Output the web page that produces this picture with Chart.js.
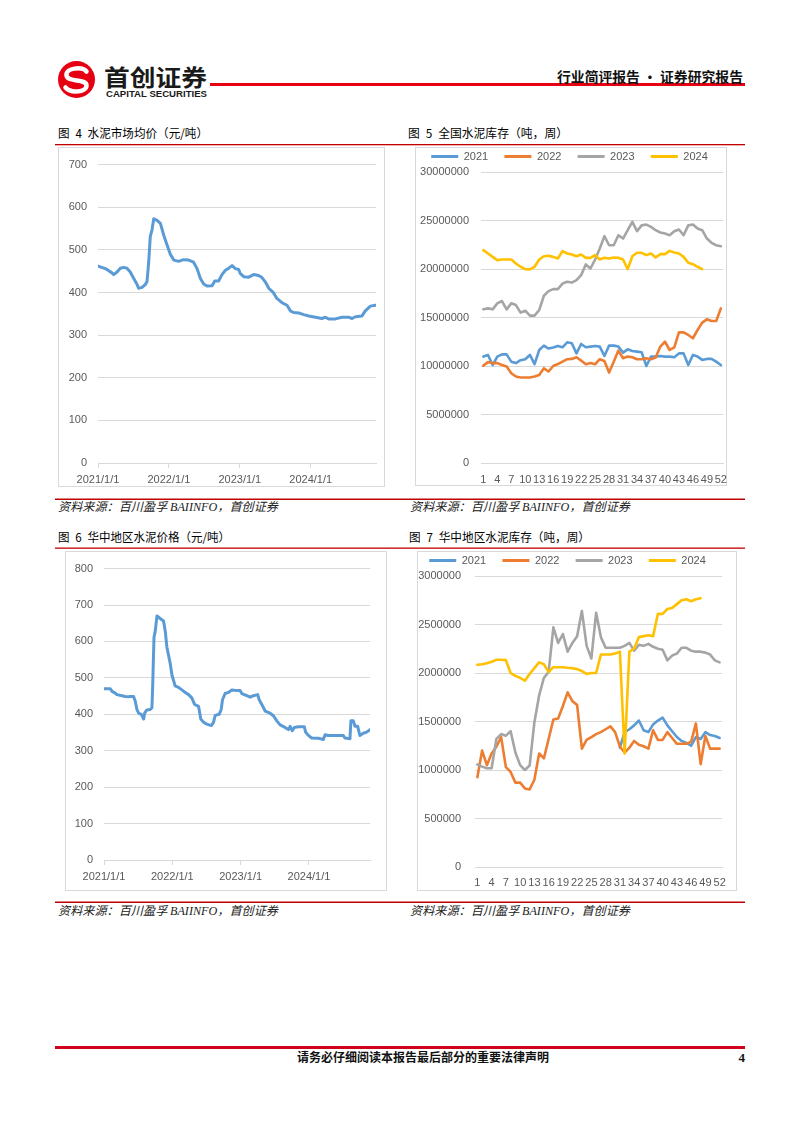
<!DOCTYPE html>
<html lang="zh-CN">
<head>
<meta charset="utf-8">
<title>水泥价格与库存</title>
<script src="https://cdn.jsdelivr.net/npm/chart.js@4.4.1/dist/chart.umd.min.js"></script>
<style>
  html, body { margin: 0; padding: 0; background: #fff; }
  #page { position: relative; width: 802px; height: 1133px; overflow: hidden; }
  #page svg.bg { position: absolute; left: 0; top: 0; }
  .box { position: absolute; border: 1px solid #D9D9D9; box-sizing: border-box; }
  canvas { position: absolute; }
</style>
</head>
<body>
<div id="page">
  <svg class="bg" width="802" height="1133" viewBox="0 0 802 1133">
    <!-- header -->
    <g transform="translate(76.5,79.5)">
      <circle r="18.5" fill="#E60012"/>
      <path d="M10,-8 C6,-13 -11,-12 -10,-4 C-9,3 10,-1 10,6 C10,13 -6,14 -11,8" fill="none" stroke="#fff" stroke-width="4.5" stroke-linecap="round"/>
    </g>
    <text x="104" y="86" font-family="'Noto Sans CJK SC', sans-serif" font-weight="700" font-size="23" textLength="103" lengthAdjust="spacingAndGlyphs" fill="#1a1a1a">首创证券</text>
    <text x="106" y="96.5" font-family="'Liberation Sans', Arial, sans-serif" font-weight="700" font-size="8.5" textLength="101" lengthAdjust="spacingAndGlyphs" fill="#1a1a1a">CAPITAL SECURITIES</text>
    <rect x="210" y="83" width="535" height="3" fill="#E60012"/>
    <text x="557" y="82" font-family="'Noto Sans CJK SC', sans-serif" font-weight="700" font-size="14" textLength="186" lengthAdjust="spacingAndGlyphs" fill="#111">行业简评报告 · 证券研究报告</text>

    <!-- row 1 -->
    <text x="58" y="137.5" font-family="'Noto Sans CJK SC', sans-serif" font-size="12" textLength="150" lengthAdjust="spacingAndGlyphs" fill="#000">图&#x2002;4&#x2002;水泥市场均价（元/吨）</text>
    <text x="408" y="137.5" font-family="'Noto Sans CJK SC', sans-serif" font-size="12" textLength="160" lengthAdjust="spacingAndGlyphs" fill="#000">图&#x2002;5&#x2002;全国水泥库存（吨，周）</text>
    <rect x="55" y="144" width="690" height="1.3" fill="#C00000"/>
    <rect x="55" y="498.5" width="690" height="1.5" fill="#C00000"/>
    <text x="58" y="511" font-family="'Noto Sans CJK SC', sans-serif" font-style="italic" font-size="12" textLength="220" lengthAdjust="spacingAndGlyphs" fill="#222">资料来源：百川盈孚 <tspan font-family="'Liberation Serif', serif">BAIINFO</tspan>，首创证券</text>
    <text x="410" y="511" font-family="'Noto Sans CJK SC', sans-serif" font-style="italic" font-size="12" textLength="220" lengthAdjust="spacingAndGlyphs" fill="#222">资料来源：百川盈孚 <tspan font-family="'Liberation Serif', serif">BAIINFO</tspan>，首创证券</text>

    <!-- row 2 -->
    <text x="58" y="541.5" font-family="'Noto Sans CJK SC', sans-serif" font-size="12" textLength="172" lengthAdjust="spacingAndGlyphs" fill="#000">图&#x2002;6&#x2002;华中地区水泥价格（元/吨）</text>
    <text x="409" y="541.5" font-family="'Noto Sans CJK SC', sans-serif" font-size="12" textLength="181" lengthAdjust="spacingAndGlyphs" fill="#000">图&#x2002;7&#x2002;华中地区水泥库存（吨，周）</text>
    <rect x="55" y="547.5" width="690" height="1.3" fill="#C00000"/>
    <rect x="55" y="901.5" width="690" height="1.5" fill="#C00000"/>
    <text x="58" y="915" font-family="'Noto Sans CJK SC', sans-serif" font-style="italic" font-size="12" textLength="220" lengthAdjust="spacingAndGlyphs" fill="#222">资料来源：百川盈孚 <tspan font-family="'Liberation Serif', serif">BAIINFO</tspan>，首创证券</text>
    <text x="410" y="915" font-family="'Noto Sans CJK SC', sans-serif" font-style="italic" font-size="12" textLength="220" lengthAdjust="spacingAndGlyphs" fill="#222">资料来源：百川盈孚 <tspan font-family="'Liberation Serif', serif">BAIINFO</tspan>，首创证券</text>

    <!-- footer -->
    <rect x="55" y="1046" width="690" height="3" fill="#D0021B"/>
    <text x="297" y="1062" font-family="'Noto Sans CJK SC', sans-serif" font-weight="700" font-size="12" textLength="252" lengthAdjust="spacingAndGlyphs" fill="#111">请务必仔细阅读本报告最后部分的重要法律声明</text>
    <text x="745" y="1062" text-anchor="end" font-family="'Liberation Serif', serif" font-weight="700" font-size="13" fill="#111">4</text>
  </svg>

  <div class="box" style="left:58px;top:147px;width:327px;height:340px"></div>
  <canvas id="c4" width="327" height="340" style="left:58px;top:147px"></canvas>

  <div class="box" style="left:415px;top:147px;width:312px;height:339px"></div>
  <canvas id="c5" width="312" height="339" style="left:415px;top:147px"></canvas>

  <div class="box" style="left:65px;top:551px;width:322px;height:340px"></div>
  <canvas id="c6" width="322" height="340" style="left:65px;top:551px"></canvas>

  <div class="box" style="left:417px;top:551px;width:320px;height:340px"></div>
  <canvas id="c7" width="320" height="340" style="left:417px;top:551px"></canvas>
</div>

<script>
// x axis of the price charts: days since 2021/1/1
const yearTicks = [0, 365, 730, 1095];
const yearLabels = ["2021/1/1", "2022/1/1", "2023/1/1", "2024/1/1"];

// 图4 水泥市场均价（元/吨）
const priceDays = [0,38,72,81,98,115,132,149,166,184,201,209,227,244,252,261,269,278,287,304,321,338,355,372,390,415,441,467,492,510,527,544,561,587,601,621,638,656,673,690,707,724,733,750,776,801,827,844,861,879,904,921,947,973,990,1007,1033,1059,1085,1119,1153,1170,1187,1222,1256,1290,1308,1325,1359,1376,1402,1428];
const priceValues = [462,456,446,442,448,457,459,457,448,433,419,410,412,419,425,471,531,547,573,569,562,535,512,490,476,473,477,476,471,456,433,420,415,416,427,427,442,452,457,463,456,454,444,437,436,442,440,435,425,410,399,386,376,370,357,353,352,348,345,342,339,342,338,338,342,342,339,343,345,357,368,370];

// 图6 华中地区水泥价格（元/吨）
const hzPriceDays = [0,34,43,60,69,96,114,132,140,158,167,176,185,199,212,217,229,247,256,260,267,274,283,300,318,327,336,354,363,380,398,416,434,452,469,484,505,517,532,549,573,585,594,615,626,633,647,665,683,709,727,736,763,781,798,821,829,843,861,887,905,923,941,967,985,994,1006,1017,1038,1070,1077,1092,1109,1145,1172,1181,1198,1234,1278,1287,1314,1319,1332,1341,1355,1367,1385,1403,1421];
const hzPriceValues = [470,470,463,458,454,451,449,448,449,449,436,413,403,400,387,403,412,413,418,476,611,629,670,663,656,629,584,539,508,478,474,467,460,454,445,427,422,387,378,373,369,378,397,400,413,440,457,460,467,465,465,457,451,447,451,454,440,427,409,403,396,382,371,364,358,367,355,364,366,366,351,342,335,334,331,344,342,342,342,335,333,382,382,367,367,342,348,351,358];

// weeks 1..52
const weeks = [];
for (let i = 1; i <= 52; i++) weeks.push(String(i));
const years = ["2021", "2022", "2023", "2024"];

// 图5 全国水泥库存（吨，周）
const inv2021 = [10970000,11140000,10100000,10970000,11200000,11200000,10450000,10300000,10600000,10700000,11140000,10200000,11650000,12100000,11800000,11900000,12070000,11930000,12440000,12340000,11300000,12270000,11930000,12000000,12070000,12000000,11040000,12100000,12100000,12000000,11380000,11720000,11550000,11480000,11410000,10000000,10970000,10970000,11040000,10970000,10970000,10900000,11300000,11300000,10100000,11140000,10970000,10630000,10730000,10730000,10450000,10100000];
const inv2022 = [10040000,10400000,10300000,10300000,10100000,9940000,9260000,8910000,8810000,8810000,8810000,8910000,9080000,9770000,9430000,10000000,10200000,10450000,10700000,10730000,10900000,10560000,10180000,10300000,10180000,10700000,10520000,9320000,10450000,11590000,10800000,10970000,10900000,10700000,10700000,10800000,10700000,10870000,12000000,12500000,11650000,11930000,13470000,13470000,13200000,12860000,13710000,14470000,14810000,14640000,14640000,15940000];
const inv2023 = [15840000,15940000,15840000,16460000,16700000,15840000,16460000,16280000,15500000,15700000,15190000,15190000,15770000,17240000,17720000,17930000,17930000,18500000,18680000,18600000,18850000,19370000,20470000,20050000,20980000,22110000,23380000,22450000,22450000,23480000,23140000,24000000,24850000,23900000,24500000,24580000,24340000,24000000,23760000,23650000,23480000,23900000,24070000,23480000,24500000,24580000,24170000,24000000,23140000,22700000,22450000,22350000];
const inv2024 = [21940000,21600000,21250000,20910000,20980000,20980000,20980000,20570000,20230000,19990000,19950000,20230000,20980000,21320000,21360000,21250000,21080000,21840000,21600000,21500000,21320000,21500000,21150000,21150000,21430000,20980000,21150000,21080000,21190000,21150000,20980000,19990000,21320000,21670000,21670000,21430000,21600000,21190000,21530000,21530000,21870000,21700000,21600000,21250000,20640000,20500000,20230000,19990000];

// 图7 华中地区水泥库存（吨，周）
const hz2021 = [null,null,null,null,null,null,null,null,null,null,null,null,null,null,null,null,null,null,null,null,null,null,null,null,null,null,null,null,null,null,1230000,1390000,1420000,1460000,1510000,1410000,1390000,1470000,1510000,1540000,1460000,1400000,1340000,1300000,1280000,1250000,1340000,1320000,1390000,1360000,1350000,1330000];
const hz2022 = [926000,1200000,1050000,1170000,1240000,1340000,1030000,980000,870000,870000,810000,800000,900000,1170000,1120000,1320000,1520000,1530000,1660000,1800000,1710000,1670000,1220000,1310000,1340000,1370000,1390000,1420000,1450000,1390000,1240000,1180000,1230000,1300000,1260000,1245000,1220000,1410000,1310000,1310000,1390000,1330000,1270000,1270000,1270000,1290000,1480000,1060000,1350000,1220000,1220000,1220000];
const hz2023 = [1056000,1035000,1018000,1018000,1320000,1370000,1354000,1400000,1180000,1050000,1000000,1046000,1490000,1770000,1950000,2010000,2470000,2310000,2400000,2220000,2310000,2380000,2640000,2280000,2150000,2620000,2370000,2260000,2260000,2260000,2260000,2280000,2310000,2230000,2290000,2280000,2300000,2270000,2250000,2240000,2130000,2180000,2200000,2260000,2260000,2230000,2220000,2220000,2210000,2190000,2130000,2110000];
const hz2024 = [2085000,2090000,2100000,2115000,2136000,2136000,2133000,2000000,1970000,1950000,1920000,1990000,2050000,2110000,2090000,2010000,2060000,2060000,2060000,2054000,2050000,2040000,2020000,1990000,2000000,2000000,2190000,2190000,2190000,2200000,2220000,1170000,2220000,2250000,2370000,2380000,2390000,2380000,2610000,2610000,2660000,2670000,2710000,2750000,2760000,2740000,2760000,2770000];

const yearColors = ["#5B9BD5", "#ED7D31", "#A5A5A5", "#FFC000"];
const gridColor = "#D9D9D9";

Chart.defaults.font.family = "'Liberation Sans', Arial, sans-serif";
Chart.defaults.font.size = 11;
Chart.defaults.color = "#595959";

function priceChart(id, days, values, yMax, xMax, box) {
  const points = days.map((d, i) => ({ x: d, y: values[i] }));
  return new Chart(document.getElementById(id), {
    type: "line",
    data: {
      datasets: [{
        data: points,
        borderColor: "#5B9BD5",
        borderWidth: 3,
        pointRadius: 0,
        tension: 0,
        borderJoinStyle: "round",
        borderCapStyle: "round",
        fill: false,
      }],
    },
    options: {
      responsive: false,
      animation: false,
      layout: { padding: { top: box.top, right: box.right, left: 0, bottom: 0 } },
      plugins: { legend: { display: false }, tooltip: { enabled: false } },
      scales: {
        x: {
          type: "linear",
          min: 0,
          max: xMax,
          afterBuildTicks: (s) => { s.ticks = yearTicks.map((v) => ({ value: v })); },
          ticks: { autoSkip: false, maxRotation: 0, padding: 5, callback: (v, i) => yearLabels[i] },
          grid: { drawOnChartArea: false, tickLength: 5, color: gridColor },
          border: { color: gridColor },
          afterFit: (s) => { s.height = box.bottom; },
        },
        y: {
          min: 0,
          max: yMax,
          ticks: { stepSize: 100, padding: 11 },
          grid: { color: gridColor, drawTicks: false },
          border: { display: false },
          afterFit: (s) => { s.width = box.left; },
        },
      },
    },
  });
}

function stockChart(id, series, yMax, step, box) {
  const datasets = series.map((data, i) => ({
    label: years[i],
    data: data,
    borderColor: yearColors[i],
    backgroundColor: yearColors[i],
    borderWidth: 2.6,
    pointRadius: 0,
    tension: 0,
    borderJoinStyle: "round",
    borderCapStyle: "round",
    fill: false,
    order: 3 - i,
  }));
  return new Chart(document.getElementById(id), {
    type: "line",
    data: { labels: weeks, datasets: datasets },
    options: {
      responsive: false,
      animation: false,
      layout: { padding: { top: 0, right: box.right, left: 0, bottom: 0 } },
      plugins: {
        tooltip: { enabled: false },
        legend: {
          position: "top",
          align: "end",
          labels: {
            boxWidth: 27,
            boxHeight: 3,
            padding: 4,
            sort: (a, b) => a.datasetIndex - b.datasetIndex,
            generateLabels: (chart) =>
              Chart.defaults.plugins.legend.labels.generateLabels(chart).map((l) => {
                l.lineWidth = 0;
                l.text = l.text + "    ";
                return l;
              }),
          },
        },
      },
      scales: {
        x: {
          type: "category",
          offset: true,
          ticks: {
            autoSkip: false,
            maxRotation: 0,
            padding: 0,
            callback: (v, i) => (i % 3 === 0 ? weeks[i] : ""),
          },
          grid: { drawOnChartArea: false, tickLength: box.tick, color: "rgba(0,0,0,0)" },
          border: { color: gridColor },
          afterFit: (s) => { s.height = box.bottom; },
        },
        y: {
          min: 0,
          max: yMax,
          ticks: { stepSize: step, padding: box.ypad, callback: (v) => String(v) },
          grid: { color: gridColor, drawTicks: false },
          border: { display: false },
          afterFit: (s) => { s.width = box.left; },
        },
      },
    },
  });
}

priceChart("c4", priceDays, priceValues, 700, 1431, { left: 40, right: 9, top: 9, bottom: 24 });
stockChart("c5", [inv2021, inv2022, inv2023, inv2024], 30000000, 5000000, { left: 66, right: 3, bottom: 23, tick: 10, ypad: 12 });
priceChart("c6", hzPriceDays, hzPriceValues, 800, 1421, { left: 39, right: 17, top: 12, bottom: 31 });
stockChart("c7", [hz2021, hz2022, hz2023, hz2024], 3000000, 500000, { left: 58, right: 15, bottom: 24, tick: 9, ypad: 14 });
</script>
</body>
</html>
